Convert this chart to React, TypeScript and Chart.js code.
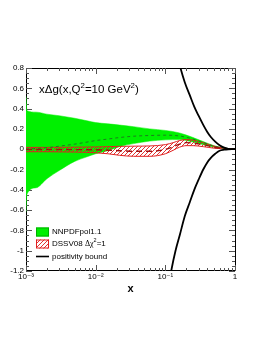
import React, { useEffect, useRef } from "react";
import { Chart, registerables } from "chart.js";
Chart.register(...registerables);

// ---- data ----
const xTickValues = [0.001, 0.01, 0.1, 1];
const xTickLabels = ["10\u207B\u00B3", "10\u207B\u00B2", "10\u207B\u00B9", "1"];

const nnX = [0.001, 0.00103, 0.0014, 0.002, 0.003, 0.005, 0.0075, 0.01, 0.015, 0.022, 0.035, 0.06, 0.1, 0.16, 0.25, 0.35, 0.5, 0.7, 1.0];
const nnUpper = [0.52, 0.38, 0.365, 0.345, 0.33, 0.305, 0.28, 0.262, 0.25, 0.238, 0.222, 0.2, 0.185, 0.16, 0.115, 0.075, 0.035, 0.012, 0];
const nnLower = [-0.62, -0.445, -0.38, -0.29, -0.21, -0.12, -0.075, -0.045, -0.015, 0.025, 0.055, 0.08, 0.092, 0.095, 0.07, 0.045, 0.02, 0.006, 0];

const nnCentralX = [0.001, 0.002, 0.003, 0.005, 0.0075, 0.01, 0.015, 0.022, 0.035, 0.06, 0.1, 0.16, 0.25, 0.35, 0.5, 0.7, 1.0];
const nnCentral = [0.0, 0.015, 0.03, 0.05, 0.07, 0.085, 0.1, 0.115, 0.128, 0.135, 0.138, 0.13, 0.1, 0.065, 0.03, 0.01, 0];

const dssvX = [0.001, 0.002, 0.005, 0.01, 0.015, 0.022, 0.035, 0.06, 0.1, 0.13, 0.16, 0.2, 0.25, 0.35, 0.5, 0.7, 1.0];
const dssvUpper = [0.018, 0.018, 0.02, 0.022, 0.025, 0.028, 0.03, 0.032, 0.045, 0.065, 0.085, 0.095, 0.09, 0.065, 0.03, 0.01, 0];
const dssvLower = [-0.025, -0.025, -0.028, -0.035, -0.045, -0.06, -0.07, -0.07, -0.045, -0.01, 0.02, 0.035, 0.035, 0.025, 0.01, 0.003, 0];
const dssvCentral = [-0.003, -0.003, -0.004, -0.006, -0.01, -0.015, -0.02, -0.02, -0.002, 0.025, 0.05, 0.065, 0.06, 0.045, 0.02, 0.006, 0];

const boundX = [0.115, 0.123, 0.14, 0.162, 0.19, 0.225, 0.26, 0.3, 0.35, 0.4, 0.45, 0.52, 0.6, 0.7, 0.8, 0.9, 1.0];
const boundUpper = [1.3, 1.18, 1.0, 0.82, 0.66, 0.53, 0.42, 0.33, 0.24, 0.17, 0.12, 0.075, 0.04, 0.015, 0.004, 0.0005, 0];
const boundLower = [-1.3, -1.18, -1.0, -0.84, -0.66, -0.52, -0.4, -0.3, -0.2, -0.13, -0.085, -0.045, -0.015, -0.005, -0.001, 0, 0];

const legendLabels = ["NNPDFpol1.1", "DSSV08 ", "positivity bound"];

const pts = (xs: number[], ys: number[]) => xs.map((x, i) => ({ x, y: ys[i] }));

const FONT = "'Liberation Sans', Arial, 'DejaVu Sans', sans-serif";
const GREEN = "#00f000";
const RED = "#e02020";

function makeHatch(ctx: CanvasRenderingContext2D): CanvasPattern | string {
  const c = document.createElement("canvas");
  c.width = 4;
  c.height = 4;
  const g = c.getContext("2d");
  if (!g) return "rgba(255,0,0,0.3)";
  g.strokeStyle = "rgba(225,30,30,0.9)";
  g.lineWidth = 1;
  g.beginPath();
  g.moveTo(-1, 5);
  g.lineTo(5, -1);
  g.moveTo(-1, 1);
  g.lineTo(1, -1);
  g.moveTo(3, 5);
  g.lineTo(5, 3);
  g.stroke();
  return ctx.createPattern(c, "repeat") || "rgba(255,0,0,0.3)";
}

type Part = { t: string; sup?: boolean; family?: string };
function drawRich(ctx: CanvasRenderingContext2D, x: number, y: number, parts: Part[], size: number) {
  let cx = x;
  for (const p of parts) {
    const s = p.sup ? size * 0.68 : size;
    ctx.font = `${s}px ${p.family || FONT}`;
    ctx.fillText(p.t, cx, p.sup ? y - size * 0.42 : y);
    cx += ctx.measureText(p.t).width;
  }
}

const framePlugin = {
  id: "frame",
  beforeDatasetsDraw(chart: any) {
    const { ctx, chartArea: a, scales } = chart;
    const xs = scales.x;
    const ys = scales.y;
    ctx.save();
    ctx.strokeStyle = "#000";
    ctx.lineWidth = 1;
    ctx.beginPath();
    ctx.moveTo(a.left + 0.5, a.top + 0.5);
    ctx.lineTo(a.right + 0.5, a.top + 0.5);
    ctx.lineTo(a.right + 0.5, a.bottom - 0.5);
    ctx.lineTo(a.left + 0.5, a.bottom - 0.5);
    ctx.closePath();
    ctx.stroke();
    ctx.strokeStyle = "#555";
    ctx.beginPath();
    // y ticks (left and right, pointing inward)
    for (let i = 0; i <= 40; i++) {
      const v = -1.2 + i * 0.05;
      const py = Math.round(ys.getPixelForValue(v)) + 0.5;
      const len = i % 4 === 0 ? 6 : 3;
      ctx.moveTo(a.left, py);
      ctx.lineTo(a.left + len, py);
      ctx.moveTo(a.right, py);
      ctx.lineTo(a.right - len, py);
    }
    // x ticks (bottom and top)
    for (let d = -3; d <= 0; d++) {
      for (let k = 1; k <= 9; k++) {
        const v = k * Math.pow(10, d);
        if (v > 1.0001) break;
        const px = Math.round(xs.getPixelForValue(v)) + 0.5;
        const len = k === 1 ? 6 : 3;
        ctx.moveTo(px, a.bottom);
        ctx.lineTo(px, a.bottom - len);
        ctx.moveTo(px, a.top);
        ctx.lineTo(px, a.top + len);
      }
    }
    ctx.stroke();
    ctx.restore();
  },
};

const makeTextPlugin = (hatch: CanvasPattern | string) => ({
  id: "texts",
  afterDraw(chart: any) {
    const { ctx, chartArea: a } = chart;
    ctx.save();
    ctx.fillStyle = "#000";
    ctx.textBaseline = "alphabetic";
    ctx.textAlign = "left";
    // title inside plot
    drawRich(
      ctx,
      a.left + 13,
      a.top + 25,
      [
        { t: "x\u0394g(x,Q" },
        { t: "2", sup: true },
        { t: "=10 GeV" },
        { t: "2", sup: true },
        { t: ")" },
      ],
      11.5
    );
    // legend
    const bx = a.left + 10;
    const bw = 13;
    // entry 1
    let cy = 232;
    ctx.fillStyle = GREEN;
    ctx.fillRect(bx, cy - 4.5, bw, 9);
    ctx.strokeStyle = "#00b000";
    ctx.lineWidth = 1;
    ctx.strokeRect(bx + 0.5, cy - 4.5 + 0.5, bw - 1, 8);
    ctx.fillStyle = "#000";
    ctx.textBaseline = "middle";
    drawRich(ctx, bx + bw + 3, cy, [{ t: legendLabels[0] }], 8);
    // entry 2
    cy = 244;
    ctx.fillStyle = "#fff";
    ctx.fillRect(bx, cy - 4.5, bw, 9);
    ctx.fillStyle = hatch as any;
    ctx.fillRect(bx, cy - 4.5, bw, 9);
    ctx.strokeStyle = RED;
    ctx.strokeRect(bx + 0.5, cy - 4.5 + 0.5, bw - 1, 8);
    ctx.fillStyle = "#000";
    drawRich(
      ctx,
      bx + bw + 3,
      cy,
      [
        { t: legendLabels[1] },
        { t: "\u0394\u03C7", family: "'Liberation Serif', 'DejaVu Serif', serif" },
        { t: "2", sup: true },
        { t: "=1" },
      ],
      8
    );
    // entry 3
    cy = 256.5;
    ctx.strokeStyle = "#000";
    ctx.lineWidth = 1.6;
    ctx.beginPath();
    ctx.moveTo(bx, cy);
    ctx.lineTo(bx + bw, cy);
    ctx.stroke();
    drawRich(ctx, bx + bw + 3, cy, [{ t: legendLabels[2] }], 8);
    ctx.restore();
  },
});

export default function App() {
  const ref = useRef<HTMLCanvasElement>(null);
  useEffect(() => {
    const canvas = ref.current;
    if (!canvas) return;
    const ctx2 = canvas.getContext("2d") as CanvasRenderingContext2D;
    const hatch = makeHatch(ctx2);
    const mono = { cubicInterpolationMode: "monotone" as const, pointRadius: 0 };
    const chart = new Chart(canvas, {
      type: "line",
      data: {
        datasets: [
          { ...mono, label: "bound+", data: pts(boundX, boundUpper), borderColor: "#000", borderWidth: 1.8, fill: false },
          { ...mono, label: "bound-", data: pts(boundX, boundLower), borderColor: "#000", borderWidth: 1.8, fill: false },
          { ...mono, label: "dssv", data: pts(dssvX, dssvCentral), borderColor: "#a01010", borderWidth: 1.4, borderDash: [6, 4], fill: false },
          { ...mono, label: "nnpdf", data: pts(nnCentralX, nnCentral), borderColor: "#1d7d1d", borderWidth: 1, borderDash: [3, 3], fill: false },
          { ...mono, label: "dssv+", data: pts(dssvX, dssvUpper), borderColor: RED, borderWidth: 1, backgroundColor: hatch as any, fill: "+1" },
          { ...mono, label: "dssv-", data: pts(dssvX, dssvLower), borderColor: RED, borderWidth: 1, fill: false },
          { ...mono, label: "nn+", data: pts(nnX, nnUpper), borderColor: GREEN, borderWidth: 0.5, backgroundColor: GREEN, fill: "+1" },
          { ...mono, label: "nn-", data: pts(nnX, nnLower), borderColor: GREEN, borderWidth: 0.5, fill: false },
        ],
      },
      options: {
        responsive: false,
        animation: false,
        events: [],
        layout: { padding: { top: 68, right: 27, bottom: 0, left: 0 } },
        plugins: { legend: { display: false }, tooltip: { enabled: false }, title: { display: false } },
        scales: {
          x: {
            type: "logarithmic",
            min: 0.001,
            max: 1,
            grid: { display: false, drawTicks: false },
            border: { display: false },
            afterBuildTicks: (s: any) => {
              s.ticks = xTickValues.map((v) => ({ value: v }));
            },
            afterFit: (s: any) => {
              s.height = 68;
            },
            ticks: {
              autoSkip: false,
              maxRotation: 0,
              padding: 1,
              color: "#000",
              font: { size: 8, family: FONT },
              callback: (v: any) => {
                const i = xTickValues.findIndex((t) => Math.abs(t - Number(v)) < 1e-9);
                return i >= 0 ? xTickLabels[i] : "";
              },
            },
            title: {
              display: true,
              text: "x",
              color: "#000",
              font: { size: 11, weight: "bold", family: FONT },
              padding: { top: 0, bottom: 43 },
            },
          },
          y: {
            min: -1.2,
            max: 0.8,
            grid: { display: false, drawTicks: false },
            border: { display: false },
            afterFit: (s: any) => {
              s.width = 26;
            },
            ticks: {
              stepSize: 0.2,
              padding: 2,
              color: "#000",
              font: { size: 8, family: FONT },
              callback: (v: any) => {
                const r = Math.round(Number(v) * 10) / 10;
                return r === 0 ? "0" : String(r);
              },
            },
          },
        },
      },
      plugins: [framePlugin, makeTextPlugin(hatch)],
    } as any);
    return () => chart.destroy();
  }, []);
  return (
    <canvas
      ref={ref}
      width={262}
      height={339}
      style={{ position: "fixed", left: 0, top: 0, width: 262, height: 339, display: "block", background: "#fff" }}
    />
  );
}
